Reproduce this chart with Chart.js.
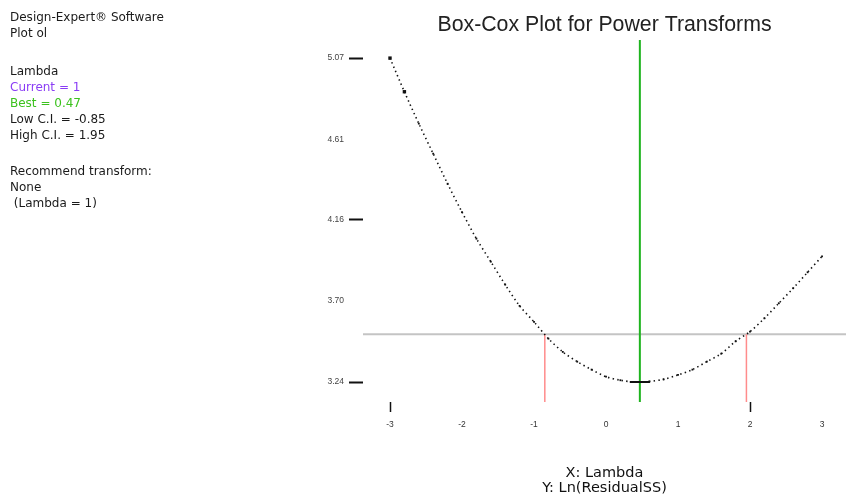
<!DOCTYPE html>
<html>
<head>
<meta charset="utf-8">
<script src="https://cdn.jsdelivr.net/npm/chart.js@4.4.1/dist/chart.umd.min.js"></script>
<style>
  html, body { margin: 0; padding: 0; background: #fff; }
  #wrap { width: 846px; height: 495px; position: relative; }
</style>
</head>
<body>
<div id="wrap"><canvas id="boxcox" width="846" height="495"></canvas></div>
<script>
// Box-Cox lambda grid and the resulting Ln(ResidualSS)
const lambdaValues = [-3, -2.8, -2.6, -2.4, -2.2, -2, -1.8, -1.6, -1.4, -1.2, -1, -0.8, -0.6, -0.4, -0.2,
  0, 0.2, 0.4, 0.6, 0.8, 1, 1.2, 1.4, 1.6, 1.8, 2, 2.2, 2.4, 2.6, 2.8, 3];
const lnResidualSS = [5.07, 4.88, 4.70, 4.53, 4.36, 4.20, 4.05, 3.92, 3.79, 3.67, 3.58, 3.485, 3.41, 3.355, 3.31,
  3.27, 3.25, 3.24, 3.243, 3.255, 3.28, 3.31, 3.355, 3.40, 3.47, 3.525, 3.60, 3.685, 3.77, 3.86, 3.95];

// Summary statistics
const currentLambda = 1;
const bestLambda = 0.47;
const lowCI = -0.85;
const highCI = 1.95;
const minLnSS = 3.24;
const ciThreshold = 3.51;

// Axis ticks
const xTickValues = [-3, -2, -1, 0, 1, 2, 3];
const xTickMarked = [-3, 2];
const yTickValues = [3.24, 3.70, 4.16, 4.61, 5.07];
const yTickLabels = ['3.24', '3.70', '4.16', '4.61', '5.07'];
const yTickMarked = [3.24, 4.16, 5.07];

// Side panel text
const headerLines = ['Design-Expert\u00AE Software', 'Plot ol'];
const lambdaLines = ['Lambda', 'Current = ' + currentLambda, 'Best = ' + bestLambda,
  'Low C.I. = ' + lowCI, 'High C.I. = ' + highCI];
const recommendLines = ['Recommend transform:', 'None', ' (Lambda = 1)'];
const axisNoteLines = ['X: Lambda', 'Y: Ln(ResidualSS)'];

const X_MIN = -3.375, X_MAX = 3.333;
const Y_MIN = 3.127, Y_MAX = 5.172;

const curve = lambdaValues.map((l, i) => ({ x: l, y: lnResidualSS[i] }));

const panelText = {
  id: 'panelText',
  afterDraw(chart) {
    const ctx = chart.ctx;
    ctx.save();
    ctx.textBaseline = 'middle';
    ctx.textAlign = 'left';
    ctx.font = '12px "DejaVu Sans", sans-serif';
    const draw = (lines, y0, colors) => {
      lines.forEach((t, i) => {
        ctx.fillStyle = (colors && colors[i]) || '#1a1a1a';
        ctx.fillText(t, 10, y0 + i * 16);
      });
    };
    draw(headerLines, 18);
    draw(lambdaLines, 72, [null, '#8a3cf5', '#3cc21e']);
    draw(recommendLines, 172);

    ctx.textAlign = 'center';
    ctx.fillStyle = '#111';
    ctx.font = '14.5px "DejaVu Sans", sans-serif';
    const cx = (chart.chartArea.left + chart.chartArea.right) / 2;
    ctx.fillText(axisNoteLines[0], cx, 473);
    ctx.fillText(axisNoteLines[1], cx, 488);
    ctx.restore();
  }
};

new Chart(document.getElementById('boxcox'), {
  type: 'scatter',
  data: {
    datasets: [
      {
        // best lambda
        data: [{ x: bestLambda, y: Y_MAX }, { x: bestLambda, y: Y_MIN }],
        showLine: true, borderColor: '#1fb41f', borderWidth: 2, pointRadius: 0, order: 3
      },
      {
        // confidence threshold
        data: [{ x: X_MIN, y: ciThreshold }, { x: X_MAX, y: ciThreshold }],
        showLine: true, borderColor: '#c4c4c4', borderWidth: 2, pointRadius: 0, order: 4
      },
      {
        data: [{ x: lowCI, y: ciThreshold }, { x: lowCI, y: Y_MIN }],
        showLine: true, borderColor: '#ff8c8c', borderWidth: 1.5, pointRadius: 0, order: 3
      },
      {
        data: [{ x: highCI, y: ciThreshold }, { x: highCI, y: Y_MIN }],
        showLine: true, borderColor: '#ff8c8c', borderWidth: 1.5, pointRadius: 0, order: 3
      },
      {
        // minimum marker
        data: [{ x: bestLambda - 0.14, y: minLnSS }, { x: bestLambda + 0.14, y: minLnSS }],
        showLine: true, borderColor: '#111', borderWidth: 2, pointRadius: 0, order: 2
      },
      {
        data: curve,
        showLine: true,
        borderColor: '#111',
        borderWidth: 1.6,
        borderDash: [1.4, 3.2],
        tension: 0.3,
        pointStyle: 'rect',
        pointRadius: ctx => (ctx.dataIndex < 2 ? 2.4 : 1.3),
        pointBackgroundColor: '#111',
        pointBorderWidth: 0,
        order: 1
      }
    ]
  },
  options: {
    responsive: false,
    animation: false,
    devicePixelRatio: 1,
    layout: { autoPadding: false, padding: { left: 0, right: 0, top: 0, bottom: 0 } },
    plugins: {
      legend: { display: false },
      tooltip: { enabled: false },
      title: {
        display: true,
        text: 'Box-Cox Plot for Power Transforms',
        fullSize: false,
        color: '#222',
        font: { family: '"Liberation Sans", Arial, sans-serif', size: 21.3, weight: 'normal', lineHeight: 1.2 },
        padding: { top: 12, bottom: 2.5 }
      }
    },
    scales: {
      x: {
        type: 'linear',
        min: X_MIN, max: X_MAX,
        afterBuildTicks: s => { s.ticks = xTickValues.map(v => ({ value: v })); },
        afterFit: s => { s.height = 93; s.paddingLeft = 0; s.paddingRight = 0; },
        border: { display: false },
        grid: {
          drawOnChartArea: false,
          drawTicks: true,
          tickLength: 10,
          tickWidth: 1.5,
          tickColor: c => (c.tick && xTickMarked.includes(c.tick.value) ? '#111' : 'rgba(0,0,0,0)')
        },
        ticks: {
          color: '#333',
          padding: 8,
          maxRotation: 0,
          font: { family: '"Liberation Sans", Arial, sans-serif', size: 8.5 },
          callback: v => String(v)
        }
      },
      y: {
        type: 'linear',
        min: Y_MIN, max: Y_MAX,
        afterBuildTicks: s => { s.ticks = yTickValues.map(v => ({ value: v })); },
        afterFit: s => { s.width = 363; s.paddingTop = 0; s.paddingBottom = 0; },
        border: { display: false },
        grid: {
          drawOnChartArea: false,
          drawTicks: true,
          tickLength: 14,
          tickWidth: 2,
          tickColor: c => (c.tick && yTickMarked.includes(c.tick.value) ? '#111' : 'rgba(0,0,0,0)')
        },
        ticks: {
          color: '#444',
          padding: 5,
          font: { family: '"Liberation Sans", Arial, sans-serif', size: 8.5 },
          callback: v => {
            const i = yTickValues.indexOf(v);
            return i >= 0 ? yTickLabels[i] : '';
          }
        }
      }
    }
  },
  plugins: [panelText]
});
</script>
</body>
</html>
